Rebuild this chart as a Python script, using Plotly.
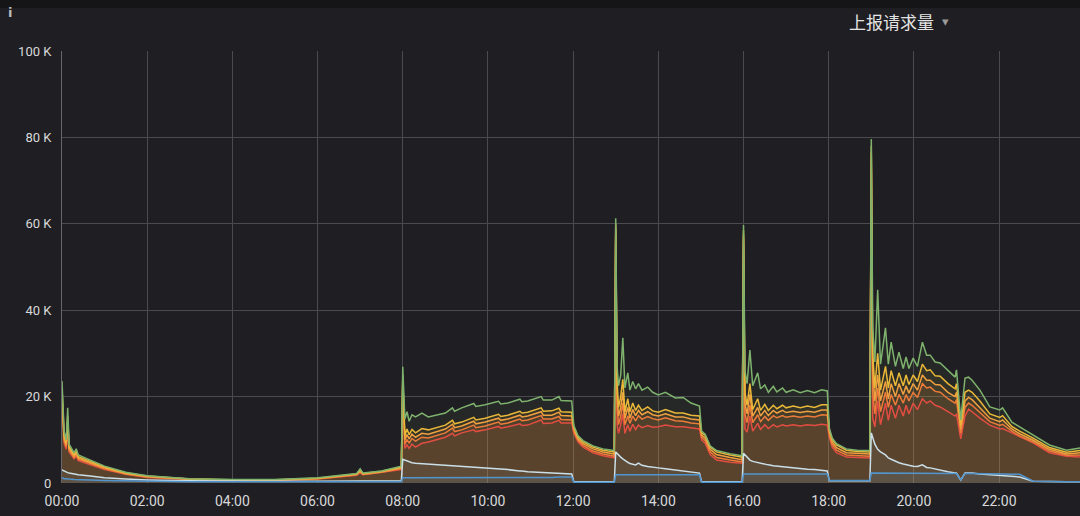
import plotly.graph_objects as go

DAY = "2024-01-01 "

times = [
    # 00:00 - 08:00
    "00:00", "00:03", "00:06", "00:08", "00:10", "00:17", "00:20", "00:23", "00:40", "01:00",
    "01:30", "02:00", "03:00", "04:00", "05:00", "06:00", "06:55", "07:00", "07:04", "07:30", "07:58",
    # 08:00 - 13:00
    "08:00", "08:03", "08:06", "08:09", "08:13", "08:18", "08:27", "08:36", "09:00", "09:10",
    "09:13", "09:23", "09:40", "09:43", "09:56", "10:15", "10:18", "10:28", "10:45", "10:48",
    "10:56", "11:15", "11:18", "11:30", "11:40", "11:43", "11:58", "12:01", "12:07", "12:14",
    "12:28", "12:42", "12:58",
    # 13:00 - 16:00
    "13:00", "13:02", "13:04", "13:07", "13:10", "13:13", "13:17", "13:20", "13:24", "13:28",
    "13:32", "13:37", "13:45", "13:52", "14:00", "14:10", "14:24", "14:35", "14:46", "14:58",
    "15:01", "15:06", "15:13", "15:22", "15:41", "15:58",
    # 16:00 - 19:00
    "16:00", "16:02", "16:05", "16:09", "16:13", "16:20", "16:24", "16:30", "16:35", "16:42",
    "16:47", "16:55", "17:00", "17:10", "17:20", "17:30", "17:40", "17:50", "17:58", "18:01",
    "18:05", "18:11", "18:25", "18:40", "18:58",
    # 19:00 - 24:00
    "19:00", "19:02", "19:05", "19:09", "19:13", "19:20", "19:24", "19:28", "19:34", "19:39",
    "19:45", "19:49", "19:53", "19:59", "20:05", "20:12", "20:18", "20:23", "20:30", "20:37",
    "20:48", "20:58", "21:00", "21:06", "21:12", "21:17", "21:22", "21:33", "21:47", "22:01",
    "22:05", "22:18", "22:29", "22:48", "23:11", "23:35", "23:54",
]

# values in thousands (K)
series_green = [
    23.6, 12.0, 10.0, 17.4, 9.0, 7.0, 7.9, 6.5, 5.3, 3.9, 2.5, 1.7, 1.0, 0.8, 0.8, 1.2, 2.2, 3.3, 2.3, 2.8, 3.9,
    26.9, 14.8, 16.5, 14.3, 15.8, 15.3, 16.2, 15.3, 16.2, 17.4, 16.6, 17.4, 18.4, 17.7, 18.1, 18.9, 18.3, 18.5, 19.4, 18.8,
    19.0, 20.0, 19.2, 19.2, 20.0, 19.1, 19.0, 13.3, 10.9, 9.8, 8.6, 7.9, 7.5,
    61.3, 27.0, 22.5, 25.0, 33.6, 22.0, 25.5, 21.5, 23.5, 21.8, 23.0, 21.5, 22.2, 21.0, 20.4, 21.0, 19.7, 19.8, 18.5, 17.8,
    12.0, 11.3, 8.6, 7.5, 6.8, 6.3,
    59.7, 26.0, 23.0, 30.8, 22.5, 25.5, 21.8, 22.7, 21.0, 22.4, 21.1, 22.0, 21.0, 21.6, 20.9, 21.4, 20.9, 21.6, 21.3, 12.6,
    10.4, 9.1, 7.9, 7.6, 7.5,
    79.6, 36.0, 28.0, 44.7, 27.5, 35.9, 27.5, 32.6, 27.0, 30.3, 26.5, 29.2, 26.5, 28.9, 27.0, 32.6, 29.6, 29.6, 28.0, 27.8,
    26.0, 24.5, 26.2, 14.6, 24.3, 24.5, 23.8, 21.5, 17.6, 16.9, 17.4, 14.1, 13.0, 11.1, 8.8, 7.6, 8.1,
]
series_yellow = [
    22.0, 11.0, 9.3, 15.5, 8.4, 6.6, 7.4, 6.1, 5.0, 3.7, 2.3, 1.6, 0.95, 0.75, 0.75, 1.1, 2.1, 3.0, 2.2, 2.7, 3.7,
    25.0, 11.0, 12.5, 11.2, 12.4, 11.6, 12.6, 12.3, 13.4, 14.5, 13.7, 14.1, 15.2, 14.6, 15.0, 15.9, 15.4, 15.7, 16.6, 16.2,
    16.4, 17.4, 16.6, 16.7, 17.3, 16.5, 16.4, 13.0, 10.6, 9.5, 8.3, 7.6, 7.2,
    60.0, 23.0, 17.5, 20.0, 24.0, 16.5, 19.5, 16.5, 18.5, 16.8, 18.0, 16.8, 17.6, 16.7, 16.4, 17.0, 16.2, 16.2, 15.7, 15.5,
    11.6, 11.0, 8.3, 7.2, 6.5, 6.0,
    58.5, 21.0, 18.0, 23.0, 17.0, 19.5, 16.8, 18.2, 16.8, 18.0, 17.2, 18.0, 17.4, 17.8, 17.4, 17.8, 17.5, 18.1, 18.1, 12.3,
    10.1, 8.8, 7.6, 7.3, 7.2,
    78.0, 30.0, 22.0, 30.0, 21.5, 27.0, 22.0, 26.0, 22.5, 25.5, 22.5, 25.0, 22.8, 25.0, 23.5, 27.5, 26.0, 26.2, 24.8, 24.7,
    23.0, 21.8, 23.0, 13.5, 21.0, 21.5, 21.0, 19.0, 16.0, 15.2, 15.6, 13.1, 12.0, 10.4, 8.2, 7.1, 7.5,
]
series_orange = [
    20.5, 10.3, 8.8, 14.5, 8.0, 6.2, 7.0, 5.8, 4.7, 3.5, 2.2, 1.5, 0.9, 0.7, 0.7, 1.05, 2.0, 2.8, 2.1, 2.6, 3.5,
    24.0, 10.0, 11.2, 10.2, 11.3, 10.6, 11.5, 11.3, 12.5, 13.6, 12.8, 13.2, 14.3, 13.7, 14.1, 15.0, 14.5, 14.8, 15.7, 15.3,
    15.5, 16.5, 15.7, 15.7, 16.4, 15.6, 15.5, 12.5, 10.2, 9.1, 7.9, 7.2, 6.7,
    59.0, 20.5, 15.5, 17.5, 21.0, 15.0, 17.5, 15.0, 17.0, 15.6, 16.8, 15.8, 16.5, 15.8, 15.5, 16.0, 15.3, 15.3, 14.8, 14.6,
    11.1, 10.4, 7.8, 6.6, 5.9, 5.4,
    57.5, 18.5, 16.0, 20.5, 15.5, 17.5, 15.5, 16.8, 15.6, 16.8, 16.2, 16.8, 16.3, 16.6, 16.3, 16.6, 16.4, 16.9, 16.9, 11.7,
    9.5, 8.2, 7.0, 6.8, 6.7,
    76.5, 26.0, 19.0, 25.0, 19.0, 23.5, 19.5, 23.0, 20.0, 23.0, 20.5, 22.5, 20.8, 23.0, 21.5, 25.0, 23.8, 23.8, 22.8, 22.7,
    21.0, 20.0, 21.0, 12.5, 19.0, 19.8, 19.3, 17.5, 15.0, 14.2, 14.6, 12.5, 11.4, 9.9, 7.8, 6.7, 7.0,
]
series_orangered = [
    19.5, 9.8, 8.3, 13.8, 7.6, 5.9, 6.6, 5.5, 4.5, 3.3, 2.1, 1.4, 0.85, 0.65, 0.65, 1.0, 1.9, 2.6, 2.0, 2.5, 3.3,
    23.0, 9.0, 10.0, 9.3, 10.3, 9.7, 10.6, 10.4, 11.6, 12.7, 11.9, 12.3, 13.4, 12.8, 13.2, 14.1, 13.6, 13.9, 14.8, 14.4,
    14.6, 15.6, 14.8, 14.8, 15.4, 14.7, 14.6, 12.0, 9.9, 8.7, 7.4, 6.7, 6.2,
    58.0, 17.5, 13.5, 15.5, 18.5, 13.5, 15.5, 13.8, 15.5, 14.4, 15.6, 14.8, 15.4, 14.9, 14.6, 15.1, 14.4, 14.3, 13.9, 13.7,
    10.6, 9.8, 7.2, 5.9, 5.3, 4.9,
    56.5, 16.0, 14.0, 18.0, 14.0, 15.8, 14.2, 15.4, 14.5, 15.6, 15.1, 15.6, 15.2, 15.5, 15.2, 15.5, 15.3, 15.8, 15.7, 11.1,
    8.9, 7.6, 6.5, 6.3, 6.2,
    75.0, 21.0, 16.0, 22.0, 16.5, 21.0, 17.5, 20.5, 18.0, 20.5, 18.5, 20.5, 19.0, 21.0, 19.8, 23.0, 22.0, 22.2, 21.2, 21.0,
    19.5, 18.5, 19.3, 11.5, 17.5, 18.5, 18.0, 16.3, 14.2, 13.3, 13.6, 12.0, 10.9, 9.5, 7.4, 6.4, 6.5,
]
series_red = [
    18.5, 9.2, 7.8, 13.0, 7.2, 5.6, 6.3, 5.2, 4.2, 3.1, 2.0, 1.3, 0.8, 0.6, 0.6, 0.95, 1.8, 2.4, 1.9, 2.4, 3.1,
    22.0, 8.0, 8.8, 8.0, 9.0, 8.3, 9.2, 9.5, 10.6, 11.5, 10.9, 11.6, 12.3, 11.9, 12.3, 13.1, 12.7, 13.0, 13.7, 13.3,
    13.4, 14.6, 13.8, 13.9, 14.5, 13.9, 13.9, 11.5, 9.5, 8.3, 7.0, 6.3, 5.8,
    57.0, 13.5, 11.5, 13.5, 16.0, 11.5, 13.5, 12.0, 13.6, 12.4, 13.4, 12.8, 13.3, 12.9, 13.0, 13.4, 13.0, 13.0, 12.8, 12.5,
    10.0, 9.2, 6.6, 5.3, 4.8, 4.6,
    55.5, 12.5, 11.8, 15.5, 12.0, 13.8, 12.4, 13.5, 12.6, 13.5, 13.0, 13.5, 13.2, 13.5, 13.2, 13.5, 13.3, 13.6, 13.4, 10.5,
    8.3, 7.0, 6.0, 5.9, 5.8,
    73.0, 15.0, 13.0, 19.0, 13.5, 18.5, 14.5, 18.0, 15.0, 18.0, 15.5, 18.0, 16.0, 18.5, 17.0, 19.5, 18.5, 19.0, 18.0, 17.6,
    16.5, 15.5, 16.0, 10.2, 15.5, 17.1, 16.5, 15.0, 13.4, 12.5, 12.6, 11.6, 10.6, 9.3, 7.0, 6.2, 6.0,
]
series_pale = [
    3.0, 2.7, 2.5, 2.4, 2.3, 2.1, 2.0, 1.9, 1.6, 1.2, 0.9, 0.7, 0.5, 0.4, 0.4, 0.4, 0.5, 0.5, 0.5, 0.5, 0.5,
    5.5, 5.3, 5.0, 4.8, 4.7, 4.6, 4.5, 4.4, 4.2, 4.1, 4.0, 3.9, 3.7, 3.7, 3.5, 3.3, 3.2, 3.1, 2.8, 2.8,
    2.6, 2.4, 2.4, 2.3, 2.2, 2.2, 2.1, 0.3, 0.3, 0.3, 0.3, 0.3, 0.3,
    7.2, 6.8, 6.4, 6.0, 5.6, 5.2, 4.8, 4.5, 4.3, 4.2, 4.6, 4.1, 3.8, 3.6, 3.5, 3.3, 3.0, 2.8, 2.5, 2.3,
    0.3, 0.3, 0.3, 0.3, 0.3, 0.3,
    6.9, 6.5, 6.0, 5.3, 5.0, 4.7, 4.5, 4.4, 4.2, 4.0, 3.9, 3.8, 3.7, 3.5, 3.4, 3.2, 3.1, 2.9, 2.8, 0.5,
    0.5, 0.5, 0.5, 0.5, 0.5,
    11.6, 10.5, 9.0, 7.8, 7.2, 6.5, 5.8, 5.5, 5.0, 4.7, 4.4, 4.2, 4.1, 3.9, 3.8, 4.2, 3.6, 3.5, 3.2, 3.0,
    2.6, 2.3, 2.3, 0.7, 2.3, 2.3, 2.3, 2.1, 1.9, 1.7, 1.7, 1.4, 1.4, 0.4, 0.3, 0.3, 0.3,
]
series_blue = [
    1.2, 1.0, 1.0, 0.9, 0.9, 0.8, 0.8, 0.8, 0.7, 0.6, 0.5, 0.4, 0.3, 0.3, 0.3, 0.3, 0.3, 0.3, 0.3, 0.3, 0.3,
    1.2, 1.2, 1.2, 1.2, 1.2, 1.2, 1.2, 1.2, 1.2, 1.2, 1.2, 1.2, 1.2, 1.2, 1.2, 1.2, 1.2, 1.2, 1.2, 1.2,
    1.3, 1.3, 1.3, 1.3, 1.4, 1.4, 1.4, 0.2, 0.2, 0.2, 0.2, 0.2, 0.2,
    1.9, 1.9, 1.9, 1.9, 1.9, 1.9, 1.9, 1.9, 1.9, 1.9, 1.9, 1.9, 1.9, 1.9, 1.9, 1.9, 1.9, 1.9, 1.9, 1.9,
    0.2, 0.2, 0.2, 0.2, 0.2, 0.2,
    2.1, 2.1, 2.1, 2.1, 2.1, 2.1, 2.1, 2.1, 2.1, 2.1, 2.1, 2.1, 2.1, 2.1, 2.1, 2.1, 2.1, 2.1, 2.1, 0.6,
    0.6, 0.6, 0.6, 0.6, 0.6,
    2.3, 2.3, 2.3, 2.3, 2.3, 2.3, 2.3, 2.3, 2.3, 2.3, 2.3, 2.3, 2.3, 2.3, 2.3, 2.3, 2.3, 2.3, 2.3, 2.3,
    2.3, 2.3, 2.2, 0.7, 2.2, 2.2, 2.2, 2.2, 2.1, 2.1, 2.1, 2.0, 2.0, 0.4, 0.3, 0.3, 0.3,
]

y_tick_vals = [0, 20, 40, 60, 80, 100]
y_tick_text = ["0", "20 K", "40 K", "60 K", "80 K", "100 K"]
title_text = "上报请求量"

# (name, values, line colour, fill rgb, fill alpha)
series = [
    ("red", series_red, "#E24D42", (226, 77, 66), 0.08),
    ("orangered", series_orangered, "#EC7B3A", (236, 123, 58), 0.08),
    ("orange", series_orange, "#F0A040", (240, 160, 64), 0.08),
    ("yellow", series_yellow, "#EAB839", (234, 184, 57), 0.08),
    ("green", series_green, "#7EB26D", (126, 178, 109), 0.07),
    ("pale", series_pale, "#CADFE8", (202, 223, 232), 0.06),
    ("blue", series_blue, "#5195CE", (81, 149, 206), 0.10),
]

for name, vals, *_ in series:
    assert len(vals) == len(times), (name, len(vals), len(times))

x = [DAY + t for t in times]

fig = go.Figure()
# fills first (no line), then all lines on top
for name, vals, color, rgb, a in series:
    fig.add_trace(go.Scatter(
        x=x, y=vals, mode="none", name=name + "_fill",
        fill="tozeroy", fillcolor="rgba(%d,%d,%d,%.2f)" % (rgb + (a,)),
        hoverinfo="skip", showlegend=False,
    ))
for name, vals, color, rgb, a in series:
    fig.add_trace(go.Scatter(
        x=x, y=vals, mode="lines", name=name,
        line=dict(color=color, width=1.5),
        hoverinfo="skip", showlegend=False,
    ))

BG = "#1f1e22"
GRID = "#4a4a4f"
TXT = "#d8d9da"

fig.update_layout(
    width=1080, height=516, autosize=False,
    margin=dict(l=62, r=0, t=51, b=33),
    paper_bgcolor=BG, plot_bgcolor=BG,
    font=dict(family="Roboto, Noto Sans, sans-serif", color=TXT),
    showlegend=False,
    xaxis=dict(
        type="date",
        range=[DAY + "00:00", DAY + "23:54"],
        tick0=DAY + "00:00", dtick=2 * 3600 * 1000,
        tickformat="%H:%M",
        showgrid=True, gridcolor=GRID, gridwidth=1,
        zeroline=False, showline=False,
        ticks="outside", ticklen=5, tickcolor="rgba(0,0,0,0)",
        tickfont=dict(size=14, color=TXT),
        fixedrange=True,
    ),
    yaxis=dict(
        range=[0, 100],
        tickvals=y_tick_vals, ticktext=y_tick_text,
        showgrid=True, gridcolor=GRID, gridwidth=1,
        zeroline=False,
        showline=True, linecolor="#66666b", linewidth=1,
        ticks="outside", ticklen=7, tickcolor="rgba(0,0,0,0)",
        tickfont=dict(size=13, color=TXT),
        fixedrange=True,
    ),
    shapes=[
        dict(type="rect", xref="paper", yref="paper",
             x0=-62 / 1018, x1=1.0, y0=1 + 43 / 432, y1=1 + 52 / 432,
             fillcolor="#151517", line=dict(width=0), layer="below"),
    ],
    annotations=[
        dict(text=title_text, xref="paper", yref="paper",
             x=(847 - 62) / 1018, y=(483 - 21) / 432, xanchor="left", yanchor="middle",
             showarrow=False,
             font=dict(family="Noto Sans CJK SC", size=17, color="#e4e4e4")),
        dict(text="▾", xref="paper", yref="paper",
             x=(945 - 62) / 1018, y=(483 - 21) / 432, xanchor="center", yanchor="middle",
             showarrow=False, font=dict(family="DejaVu Sans", size=13, color="#9a9a9a")),
        dict(text="<b>i</b>", xref="paper", yref="paper",
             x=(10 - 62) / 1018, y=(483 - 12) / 432, xanchor="center", yanchor="middle",
             showarrow=False, font=dict(family="DejaVu Sans", size=13, color="#bdbdbd")),
    ],
)

fig.write_html(
    "out.html",
    config={"displayModeBar": False},
    post_script="document.body.style.margin='0px';document.body.style.background='%s';" % BG,
)
